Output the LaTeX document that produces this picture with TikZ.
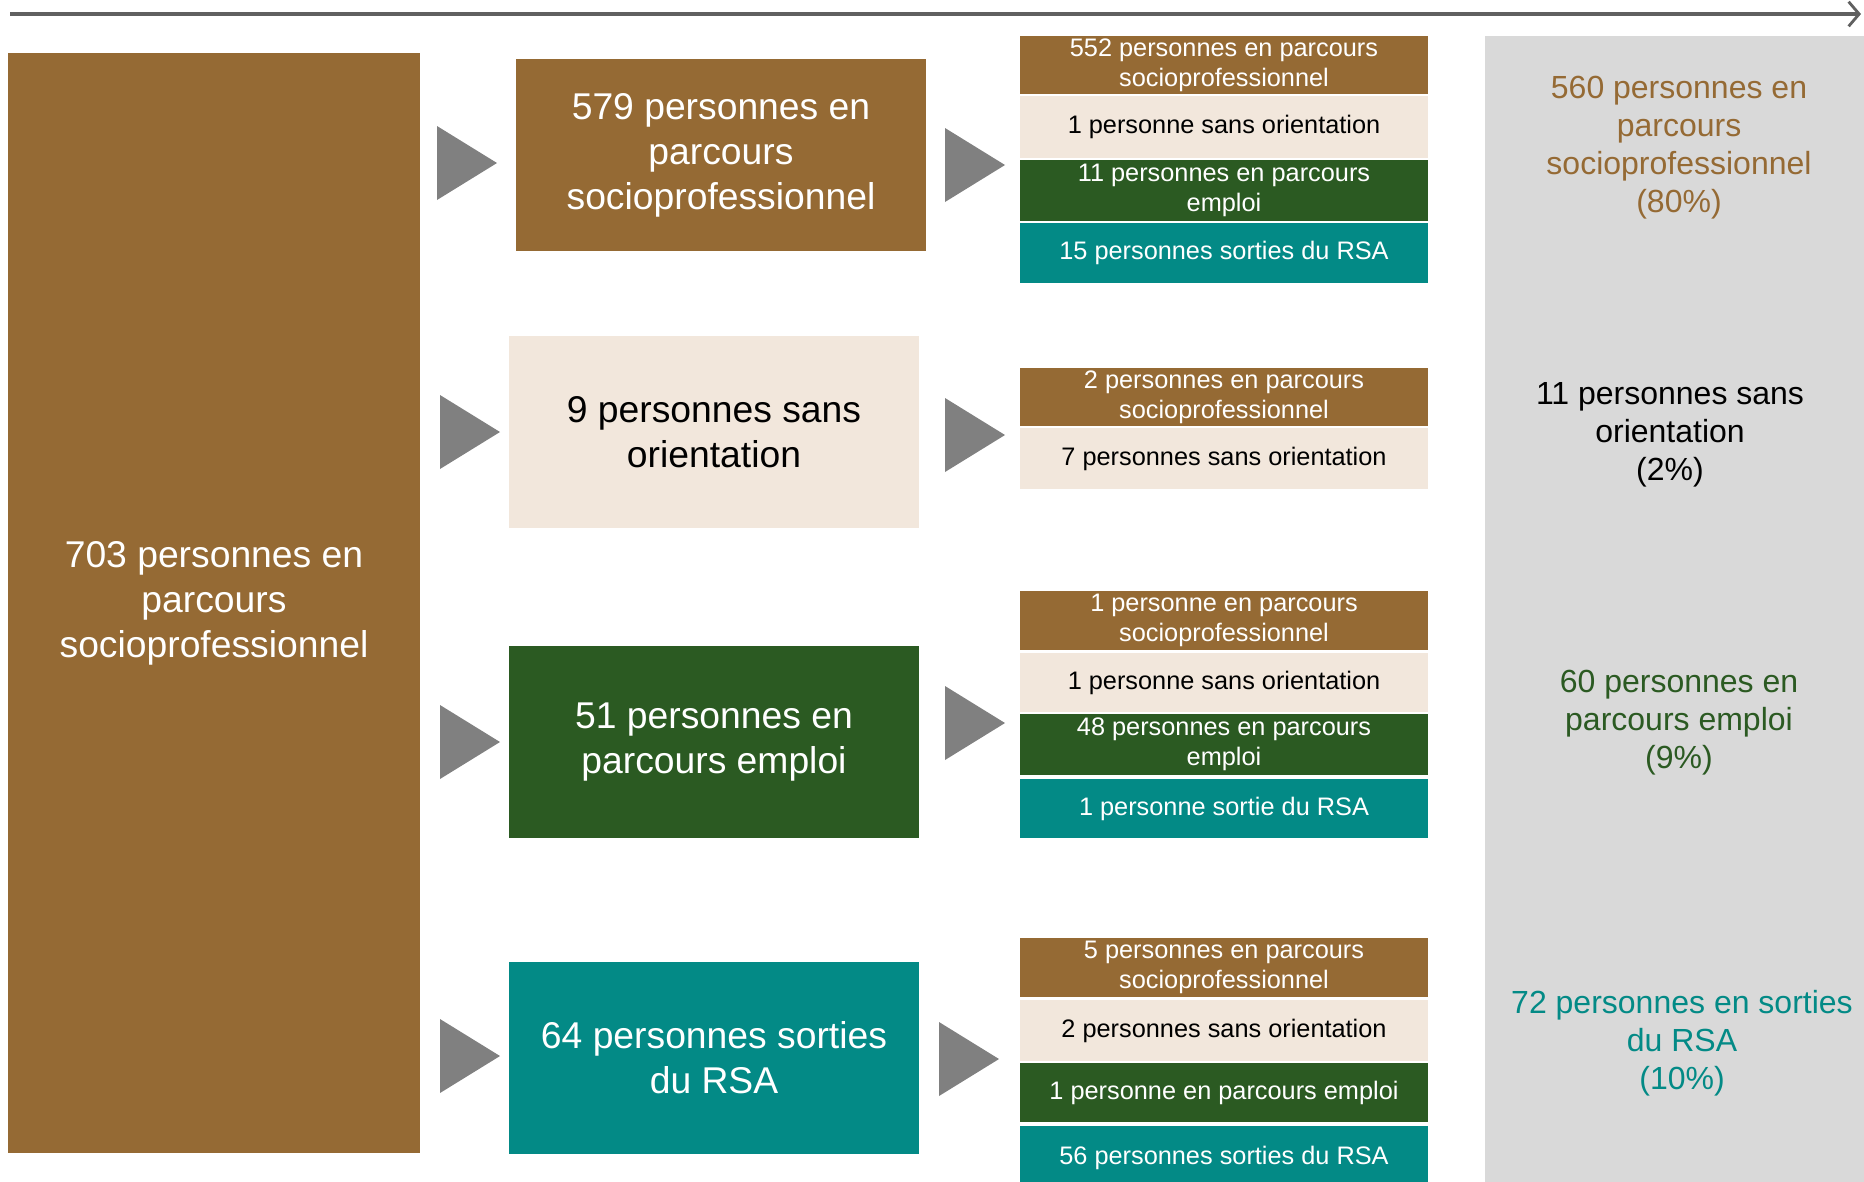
\documentclass[tikz,border=0pt]{standalone}
\usepackage{fontspec}
\setmainfont{Liberation Sans}
\usetikzlibrary{arrows.meta}

\definecolor{brun}{RGB}{149,106,52}
\definecolor{creme}{RGB}{242,231,220}
\definecolor{vert}{RGB}{43,90,34}
\definecolor{sarcelle}{RGB}{3,138,134}
\definecolor{gris}{RGB}{217,217,217}
\definecolor{fleche}{RGB}{128,128,128}
\definecolor{trait}{RGB}{96,96,96}

\begin{document}
\begin{tikzpicture}[x=0.01cm, y=-0.01cm,
    every node/.style={inner sep=0pt, outer sep=0pt, align=center},
    grand/.style={minimum width=4.09cm, minimum height=1.91cm, font=\fontsize{10.6}{12.8}\selectfont},
    petit/.style={minimum width=4.08cm, font=\fontsize{7.2}{8.5}\selectfont},
    bilan/.style={font=\fontsize{9.1}{10.8}\selectfont},
    tri/.style={fill=fleche}]
    \useasboundingbox (0,0) rectangle (1864,1181);

    % time line on top
    \coordinate (debut) at (10,14);
    \coordinate (fin) at (1861,14);
    \draw[trait, line width=1.1pt, -{Straight Barb[length=3pt, width=7pt, line width=0.8pt]}] (debut) -- (fin);

    % right panel
    \fill[gris] (1485,36) rectangle (1870,1190);

    \node[minimum width=4.12cm, minimum height=11cm, fill=brun, text=white,
          font=\fontsize{10.6}{12.8}\selectfont](total) at (214,603) {703 personnes en\\parcours\\socioprofessionnel};

    \node[grand, fill=brun, text=white](socio) at (721,155) {579 personnes en\\parcours\\socioprofessionnel};
    \node[grand, fill=creme](sans) at (714,432) {9 personnes sans\\orientation};
    \node[grand, fill=vert, text=white](emploi) at (714,742) {51 personnes en\\parcours emploi};
    \node[grand, fill=sarcelle, text=white](sortie) at (714,1058) {64 personnes sorties\\du RSA};

    \fill[tri] (437,126) -- ++(60,37) -- ++(-60,37) -- cycle;
    \fill[tri] (440,395) -- ++(60,37) -- ++(-60,37) -- cycle;
    \fill[tri] (440,705) -- ++(60,37) -- ++(-60,37) -- cycle;
    \fill[tri] (440,1019) -- ++(60,37) -- ++(-60,37) -- cycle;

    \fill[tri] (945,128) -- ++(60,37) -- ++(-60,37) -- cycle;
    \fill[tri] (945,398) -- ++(60,37) -- ++(-60,37) -- cycle;
    \fill[tri] (945,686) -- ++(60,37) -- ++(-60,37) -- cycle;
    \fill[tri] (939,1022) -- ++(60,37) -- ++(-60,37) -- cycle;

    % first row
    \node[petit, minimum height=0.58cm, fill=brun, text=white](s1) at (1224,65) {552 personnes en parcours\\socioprofessionnel};
    \node[petit, minimum height=0.61cm, fill=creme](s2) at (1224,127) {1 personne sans orientation};
    \node[petit, minimum height=0.61cm, fill=vert, text=white](s3) at (1224,190.5) {11 personnes en parcours\\emploi};
    \node[petit, minimum height=0.60cm, fill=sarcelle, text=white](s4) at (1224,253) {15 personnes sorties du RSA};

    % second row
    \node[petit, minimum height=0.58cm, fill=brun, text=white](o1) at (1224,397) {2 personnes en parcours\\socioprofessionnel};
    \node[petit, minimum height=0.61cm, fill=creme](o2) at (1224,458.5) {7 personnes sans orientation};

    % third row
    \node[petit, minimum height=0.59cm, fill=brun, text=white](e1) at (1224,620.5) {1 personne en parcours\\socioprofessionnel};
    \node[petit, minimum height=0.59cm, fill=creme](e2) at (1224,682.5) {1 personne sans orientation};
    \node[petit, minimum height=0.61cm, fill=vert, text=white](e3) at (1224,744.5) {48 personnes en parcours\\emploi};
    \node[petit, minimum height=0.59cm, fill=sarcelle, text=white](e4) at (1224,808.5) {1 personne sortie du RSA};

    % fourth row
    \node[petit, minimum height=0.59cm, fill=brun, text=white](r1) at (1224,967.5) {5 personnes en parcours\\socioprofessionnel};
    \node[petit, minimum height=0.61cm, fill=creme](r2) at (1224,1030.5) {2 personnes sans orientation};
    \node[petit, minimum height=0.59cm, fill=vert, text=white](r3) at (1224,1092.5) {1 personne en parcours emploi};
    \node[petit, minimum height=0.64cm, fill=sarcelle, text=white](r4) at (1224,1158) {56 personnes sorties du RSA};

    % totals
    \node[bilan, text=brun](b1) at (1679,148) {560 personnes en\\parcours\\socioprofessionnel\\(80\%)};
    \node[bilan](b2) at (1670,435) {11 personnes sans\\orientation\\(2\%)};
    \node[bilan, text=vert](b3) at (1679,723) {60 personnes en\\parcours emploi\\(9\%)};
    \node[bilan, text=sarcelle](b4) at (1682,1043) {72 personnes en sorties\\du RSA\\(10\%)};
\end{tikzpicture}
\end{document}
